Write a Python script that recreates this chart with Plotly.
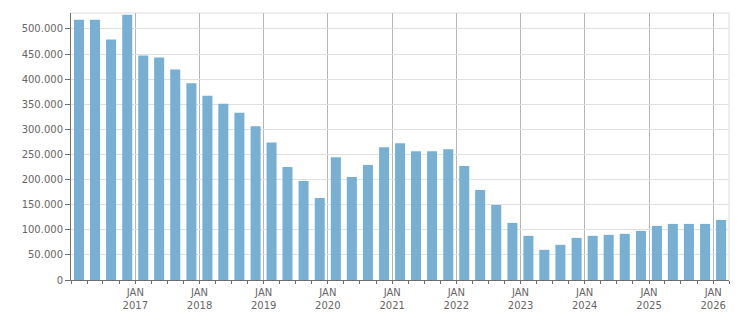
import plotly.graph_objects as go
import pandas as pd

quarters = [d.strftime("%Y-%m-%d") for d in pd.date_range("2016-01-01", periods=41, freq="QS")]
values = [
    518500, 518500, 478800, 528400,
    447000, 443000, 419000, 392000,
    367000, 351000, 333000, 306000,
    274000, 224800, 197000, 163300,
    244600, 205000, 228800, 264500,
    272400, 256500, 256500, 260500,
    226800, 179200, 149400, 113700,
    87900, 60100, 70000, 83900,
    87900, 89900, 91900, 97800,
    107700, 111700, 111700, 111700,
    119600,
]
year_ticks = [f"{y}-01-01" for y in range(2017, 2027)]
year_labels = [f"JAN<br>{y}" for y in range(2017, 2027)]
y_ticks = list(range(0, 500001, 50000))

BAR = "#78b0d4"
AX = "#6e6e6e"
FONT = dict(family="DejaVu Sans", size=10, color="#666666")

fig = go.Figure(go.Bar(
    x=quarters, y=values,
    xperiod="M3", xperiodalignment="middle",
    width=[57 * 86400000] * len(values),
    marker=dict(color=BAR, line=dict(width=0)),
    hoverinfo="x+y",
))

fig.update_layout(
    width=751, height=313,
    margin=dict(l=71, r=22, t=13, b=33),
    paper_bgcolor="white", plot_bgcolor="white",
    separators=",.",
    showlegend=False,
    font=FONT,
    shapes=[
        dict(type="line", xref="paper", yref="paper", x0=0, x1=1, y0=1, y1=1,
             line=dict(color="#dddddd", width=1), layer="below"),
        dict(type="line", xref="paper", yref="paper", x0=1, x1=1, y0=0, y1=1,
             line=dict(color="#dddddd", width=1), layer="below"),
    ],
)

fig.update_xaxes(
    type="date",
    automargin=False,
    range=["2016-01-01", "2026-04-01"],
    tickmode="array", tickvals=year_ticks, ticktext=year_labels,
    ticks="outside", ticklen=3, tickcolor=AX, tickwidth=1,
    showgrid=True, gridcolor="#b5b5b5", gridwidth=1,
    showline=True, linecolor=AX, linewidth=1,
    minor=dict(ticks="outside", ticklen=3, tickcolor=AX, dtick="M3",
               tick0="2016-01-01", showgrid=False),
    tickfont=FONT,
    zeroline=False,
)
fig.update_yaxes(
    automargin=False,
    range=[0, 531700],
    tickmode="array", tickvals=y_ticks,
    tickformat=",d",
    ticks="outside", ticklen=5, tickcolor=AX, tickwidth=1,
    showgrid=True, gridcolor="#e0e0e0", gridwidth=1,
    showline=True, linecolor=AX, linewidth=1,
    zeroline=False,
    tickfont=FONT,
)

fig.write_html("out.html")
